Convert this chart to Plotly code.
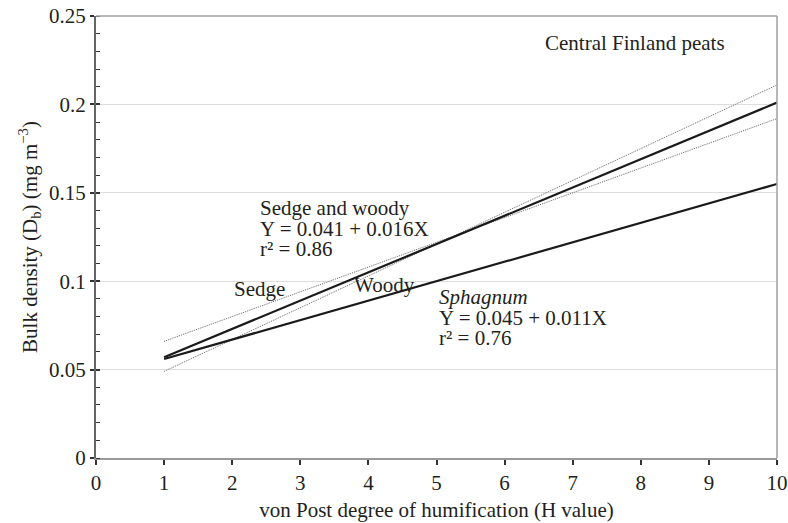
import plotly.graph_objects as go

# von Post humification values at the ends of each regression line
h_ends = [1, 10]

# Bulk density at the line ends (mg m^-3)
sedge_woody = [0.057, 0.201]   # Y = 0.041 + 0.016X
sphagnum = [0.056, 0.155]      # Y = 0.045 + 0.011X
sedge_only = [0.066, 0.192]
woody_only = [0.049, 0.211]

x_ticks = list(range(0, 11))

FONT = "Liberation Serif"
INK = "#231f20"
FS = 21

fig = go.Figure()

for ys in (sedge_only, woody_only):
    fig.add_trace(go.Scatter(
        x=h_ends, y=ys, mode="lines",
        line=dict(color="#666666", width=1, dash="1px,1px"),
        showlegend=False, hoverinfo="skip",
    ))

for ys in (sedge_woody, sphagnum):
    fig.add_trace(go.Scatter(
        x=h_ends, y=ys, mode="lines",
        line=dict(color="#1a1a1a", width=2.2),
        showlegend=False, hoverinfo="skip",
    ))

# second y axis used only to draw the inward half of the major ticks
fig.add_trace(go.Scatter(x=[0], y=[0], yaxis="y2", mode="markers",
                         marker=dict(opacity=0), showlegend=False,
                         hoverinfo="skip"))

def note(x, y, text, italic=False):
    fig.add_annotation(
        x=x, y=y, xref="x", yref="y", text=text, showarrow=False,
        xanchor="left", yanchor="middle",
        font=dict(family=FONT, size=FS, color=INK,
                  style="italic" if italic else "normal"),
    )

note(6.56, 0.2347, "Central Finland peats")
note(2.38, 0.1414, "Sedge and woody")
note(2.38, 0.1295, "Y = 0.041 + 0.016X")
note(2.38, 0.1182, "r² = 0.86")
note(2.00, 0.0956, "Sedge")
note(3.76, 0.0979, "Woody")
note(5.01, 0.0910, "Sphagnum", italic=True)
note(5.01, 0.0792, "Y = 0.045 + 0.011X")
note(5.01, 0.0679, "r² = 0.76")

# frame lines on top and right
fig.add_shape(type="line", xref="paper", yref="paper", x0=0, x1=1, y0=1, y1=1,
              line=dict(color="#a0a0a0", width=1.5))
fig.add_shape(type="line", xref="paper", yref="paper", x0=1, x1=1, y0=0, y1=1,
              line=dict(color="#a0a0a0", width=1.5))

fig.update_layout(
    width=788, height=523,
    margin=dict(l=96, r=11, t=16, b=65, autoexpand=False),
    paper_bgcolor="white", plot_bgcolor="white",
    font=dict(family=FONT, size=FS, color=INK),
    xaxis=dict(
        range=[0, 10], tickvals=x_ticks, ticks="outside", ticklen=5,
        tickwidth=1.5, tickcolor="#333333", automargin=False,
        showline=True, linecolor="#999999", linewidth=2,
        showgrid=False, zeroline=False,
        tickfont=dict(family=FONT, size=FS, color=INK),
        title=dict(text="von Post degree of humification (H value)",
                   font=dict(family=FONT, size=FS, color=INK), standoff=8),
    ),
    yaxis=dict(
        range=[0, 0.25], dtick=0.05, tick0=0, ticks="outside", ticklen=4,
        tickwidth=1.5, tickcolor="#333333", automargin=False,
        showline=True, linecolor="#666666", linewidth=2,
        showgrid=True, gridcolor="#dddddd", gridwidth=1,
        zeroline=False,
        minor=dict(dtick=0.01, ticks="inside", ticklen=4, tickwidth=1,
                   tickcolor="#333333", showgrid=False),
        tickfont=dict(family=FONT, size=FS, color=INK),
        title=dict(text="Bulk density (D<sub>b</sub>) (mg m<sup>−3</sup>)",
                   font=dict(family=FONT, size=FS, color=INK), standoff=6),
    ),
    yaxis2=dict(
        overlaying="y", side="left", range=[0, 0.25], dtick=0.05,
        ticks="inside", ticklen=4, tickwidth=1.5, tickcolor="#333333",
        showticklabels=False, showgrid=False, zeroline=False, showline=False,
        automargin=False,
    ),
)

fig.write_html("out.html")
